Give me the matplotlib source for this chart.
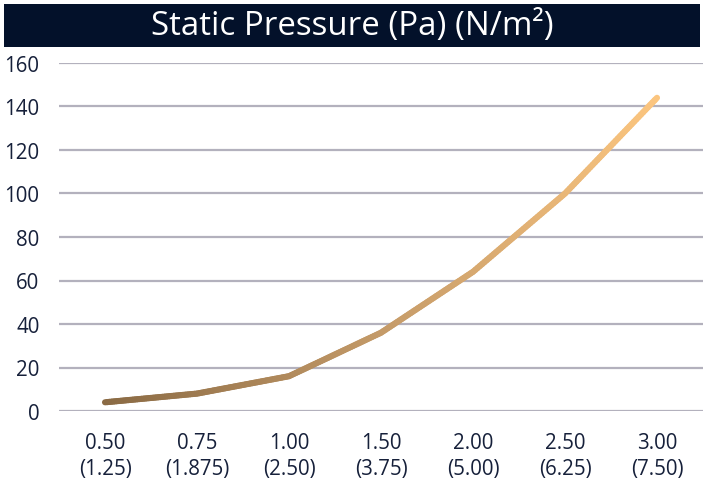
import matplotlib
matplotlib.use("Agg")
import matplotlib.pyplot as plt
import numpy as np
from matplotlib.collections import LineCollection
from matplotlib.colors import LinearSegmentedColormap
from matplotlib.patches import Rectangle

categories = ["0.50\n(1.25)", "0.75\n(1.875)", "1.00\n(2.50)", "1.50\n(3.75)",
              "2.00\n(5.00)", "2.50\n(6.25)", "3.00\n(7.50)"]
pressure = [4, 8, 16, 36, 64, 100, 144]
yticks = [0, 20, 40, 60, 80, 100, 120, 140, 160]
title = "Static Pressure (Pa) (N/m²)"

plt.rcParams['font.family'] = ['Open Sans', 'DejaVu Sans']
text_color = "#16203a"

fig = plt.figure(figsize=(7.05, 4.81), dpi=100)
W, H = 705, 481
ax = fig.add_axes([59 / W, 1 - 412 / H, (703 - 59) / W, (412 - 64) / H])

# banner
fig.patches.append(Rectangle((4 / W, 1 - 48 / H), (700 - 4) / W, (48 - 5) / H,
                             transform=fig.transFigure, facecolor="#03112a",
                             edgecolor="none", zorder=0))
fig.text(352 / W, 1 - 27 / H, title, ha="center", va="center", color="white",
         fontsize=23.8)

x = np.arange(len(pressure))
# gradient line: subdivide each segment for smooth color transition
xs, ys = [], []
for i in range(len(x) - 1):
    t = np.linspace(0, 1, 40, endpoint=False)
    xs.extend(x[i] + t * (x[i + 1] - x[i]))
    ys.extend(pressure[i] + t * (pressure[i + 1] - pressure[i]))
xs.append(x[-1]); ys.append(pressure[-1])
pts = np.array([xs, ys]).T.reshape(-1, 1, 2)
segs = np.concatenate([pts[:-1], pts[1:]], axis=1)
cmap = LinearSegmentedColormap.from_list("g", ["#8a6a44", "#c49a68", "#fbc57f"])
lc = LineCollection(segs, cmap=cmap, linewidth=4.4, capstyle="round",
                    joinstyle="round", zorder=3)
lc.set_array(np.linspace(0, 1, len(segs)))
ax.add_collection(lc)

ax.set_xlim(-0.5, len(pressure) - 0.5)
ax.set_ylim(0, 160)
ax.set_yticks(yticks)
ax.set_xticks(x)
ax.set_xticklabels(categories, linespacing=1.3)
ax.grid(axis="y", color="#b3b1bd", linewidth=1.6)
ax.set_axisbelow(True)
for s in ax.spines.values():
    s.set_visible(False)
ax.tick_params(axis="both", length=0, labelsize=14.8, colors=text_color)
ax.tick_params(axis="y", pad=14)
ax.tick_params(axis="x", pad=15)

fig.savefig("out.png", dpi=100)
